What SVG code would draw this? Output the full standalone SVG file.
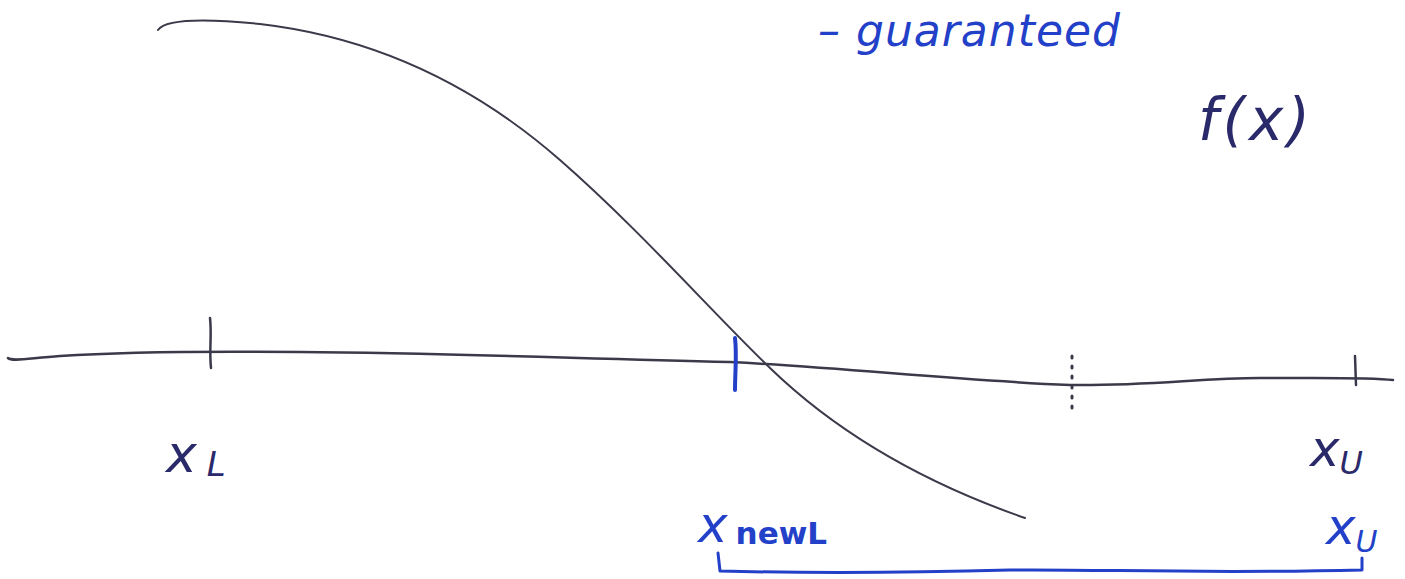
<svg xmlns="http://www.w3.org/2000/svg" width="1405" height="579" viewBox="0 0 1405 579">
<style>
.ink{fill:none;stroke:#3a3a4a;stroke-linecap:round;stroke-linejoin:round}
.blue{fill:none;stroke:#2340c8;stroke-linecap:round;stroke-linejoin:round}
.tb{font-family:"DejaVu Sans",sans-serif;font-style:italic;fill:#2340c8}
.tn{font-family:"DejaVu Sans",sans-serif;font-style:italic;fill:#2a2a6a}
</style>
<rect width="1405" height="579" fill="#ffffff"/>
<g id="connectors">
<path class="ink" stroke-width="2.5" d="M8 358 C 12 362 30 358 60 356 C 120 352 200 351 300 352 C 450 353 560 358 730 362 C 850 368 950 380 1070 385 C 1150 386 1200 378 1260 378 C 1320 378 1370 377 1393 380"/>
<path class="ink" stroke-width="2" d="M158 30 C 165 20 200 18 260 24 C 380 38 480 90 560 160 C 640 230 710 310 770 368 C 830 426 910 478 1025 518"/>
</g>
<g id="tick-xL"><path class="ink" stroke-width="2.5" d="M210 318 C 212 335 209 350 211 368"/></g>
<g id="tick-newL"><path class="blue" stroke-width="4" d="M735 338 C 737 355 735 372 735 390"/></g>
<g id="tick-dotted"><path class="ink" stroke-width="3" stroke-dasharray="2 8" d="M1072 356 L1072 416"/></g>
<g id="tick-xU"><path class="ink" stroke-width="2.5" d="M1355 356 L1356 385"/></g>
<g id="label-guaranteed"><text class="tb" x="818" y="46" font-size="44" letter-spacing="1">– guaranteed</text></g>
<g id="label-fx"><text class="tn" x="1198" y="140" font-size="58" letter-spacing="4">f(x)</text></g>
<g id="label-xL"><text class="tn" x="166" y="472" font-size="52">x<tspan font-size="34" dx="10" dy="4">L</tspan></text></g>
<g id="label-xU"><text class="tn" x="1310" y="466" font-size="50">x<tspan font-size="32" dy="8">U</tspan></text></g>
<g id="label-xnewL"><text class="tb" x="698" y="542" font-size="50">x<tspan font-size="31" dx="8" dy="2" font-style="normal" font-weight="bold">newL</tspan></text></g>
<g id="label-xU2"><text class="tb" x="1326" y="544" font-size="50">x<tspan font-size="30" dy="8">U</tspan></text></g>
<g id="bracket"><path class="blue" stroke-width="3" d="M718 553 L720 571 C 800 573 900 573 1010 570 C 1100 569 1200 574 1362 570 L1362 558"/></g>
</svg>
